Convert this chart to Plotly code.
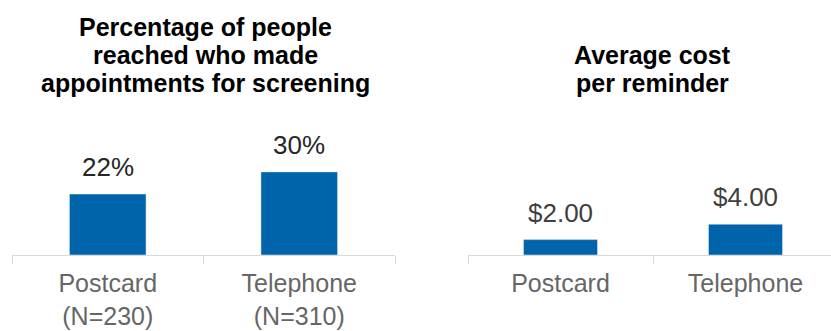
import plotly.graph_objects as go

# Data
categories = ["Postcard", "Telephone"]
left_ticktext = ["Postcard<br>(N=230)", "Telephone<br>(N=310)"]
right_ticktext = ["Postcard", "Telephone"]
pct_made_appt = [22, 30]
pct_labels = ["22%", "30%"]
avg_cost = [2.00, 4.00]
cost_labels = ["$2.00", "$4.00"]
left_title_lines = ["Percentage of people", "reached who made", "appointments for screening"]
right_title_lines = ["Average cost", "per reminder"]

W, H = 831, 331
BAR = "#0064AA"
FONT = "Liberation Sans, Arial, sans-serif"

fig = go.Figure()
fig.add_trace(go.Bar(x=categories, y=pct_made_appt, marker_color=BAR, width=0.4,
                     xaxis="x", yaxis="y", hoverinfo="skip"))
fig.add_trace(go.Bar(x=categories, y=avg_cost, marker_color=BAR, width=0.4,
                     xaxis="x2", yaxis="y2", hoverinfo="skip"))

base_px = 255
top_px = 100
ydom = [(H - base_px) / H, (H - top_px) / H]
plot_h = base_px - top_px

annotations = []
for c, v, t in zip(categories, pct_made_appt, pct_labels):
    annotations.append(dict(x=c, y=v, xref="x", yref="y", text=t, showarrow=False,
                            yanchor="bottom", yshift=10,
                            font=dict(size=26, color="#262626", family=FONT)))
for c, v, t in zip(categories, avg_cost, cost_labels):
    annotations.append(dict(x=c, y=v, xref="x2", yref="y2", text=t, showarrow=False,
                            yanchor="bottom", yshift=10,
                            font=dict(size=26, color="#404040", family=FONT)))

line_gap = 28.5
first_mid = 26.5
for i, line in enumerate(left_title_lines):
    ymid = first_mid + i * line_gap
    annotations.append(dict(x=205 / W, y=(H - ymid) / H, xref="paper", yref="paper",
                            text="<b>" + line + "</b>", showarrow=False,
                            yanchor="middle", xanchor="center",
                            font=dict(size=25, color="#000000", family=FONT)))
for i, line in enumerate(right_title_lines):
    ymid = first_mid + (i + 1) * line_gap
    annotations.append(dict(x=652 / W, y=(H - ymid) / H, xref="paper", yref="paper",
                            text="<b>" + line + "</b>", showarrow=False,
                            yanchor="middle", xanchor="center",
                            font=dict(size=25, color="#000000", family=FONT)))

axis_common = dict(type="category", showline=True, linecolor="#D9D9D9", linewidth=1,
                   ticks="outside", tickson="boundaries", ticklen=8, tickcolor="#D9D9D9",
                   showgrid=False, zeroline=False, ticklabelstandoff=6,
                   tickfont=dict(size=25, color="#666666", family=FONT))

fig.update_layout(
    width=W, height=H, margin=dict(l=0, r=0, t=0, b=0),
    paper_bgcolor="white", plot_bgcolor="white", showlegend=False,
    xaxis=dict(domain=[12 / W, 395 / W], range=[-0.5, 1.5],
               tickvals=categories, ticktext=left_ticktext, anchor="y", **axis_common),
    xaxis2=dict(domain=[468 / W, 1.0], range=[-0.5, -0.5 + (W - 468) / 185],
                tickvals=categories, ticktext=right_ticktext, anchor="y2", **axis_common),
    yaxis=dict(domain=ydom, range=[0, plot_h / 2.77], visible=False, anchor="x"),
    yaxis2=dict(domain=ydom, range=[0, plot_h / 7.7], visible=False, anchor="x2"),
    annotations=annotations,
)

fig.write_html("out.html")
